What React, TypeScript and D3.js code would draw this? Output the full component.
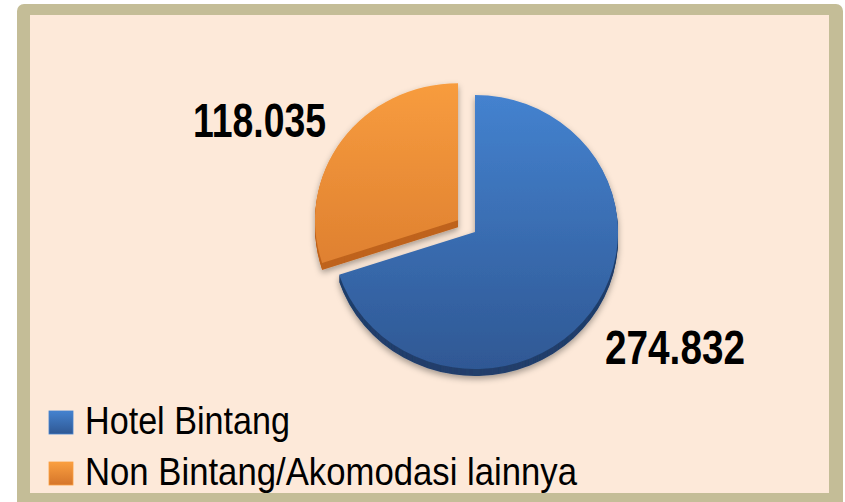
import React from "react";
import * as d3 from "d3";

const categories = ["Hotel Bintang", "Non Bintang/Akomodasi lainnya"];
const values = [274832, 118035];
const valueLabels = ["274.832", "118.035"];
const exploded = [false, true];

const W = 845;
const H = 502;
const CX = 475;
const CY = 232;
const RX = 143;
const RY = 137;
const DEPTH = 7;
const EXPLODE = 21;

const topColors = [
  ["#4482cf", "#2f5894"],
  ["#fa9f40", "#d5752a"],
];
const sideColors = ["#213f6c", "#bf631c"];
const FONT = "'Liberation Sans Narrow', 'Arial Narrow', 'Liberation Sans', Arial, sans-serif";

export default function App() {
  const pie = d3.pie<number>().sort(null).startAngle(0).endAngle(2 * Math.PI);
  const arcs = pie(values);
  const arc = d3.arc<d3.PieArcDatum<number>>().innerRadius(0).outerRadius(RX);
  const sy = RY / RX;

  const offsets = arcs.map((a, i) => {
    if (!exploded[i]) return [0, 0];
    const m = (a.startAngle + a.endAngle) / 2;
    return [EXPLODE * Math.sin(m), -EXPLODE * Math.cos(m) * sy];
  });

  const labelPos = [
    { x: 605, y: 364, anchor: "start", len: 140 },
    { x: 326, y: 137, anchor: "end", len: 133 },
  ];

  const depthSteps = d3.range(DEPTH, 0, -1);

  return (
    <svg
      width={W}
      height={H}
      style={{ position: "fixed", left: 0, top: 0 }}
      xmlns="http://www.w3.org/2000/svg"
    >
      <defs>
        {topColors.map((c, i) => (
          <linearGradient
            key={i}
            id={`g${i}`}
            gradientUnits="userSpaceOnUse"
            x1={0}
            y1={-RX - 20 * (i === 1 ? 1 : 0)}
            x2={0}
            y2={RX - 20 * (i === 1 ? 1 : 0)}
          >
            <stop offset="0%" stopColor={c[0]} />
            <stop offset="100%" stopColor={c[1]} />
          </linearGradient>
        ))}
        {topColors.map((c, i) => (
          <linearGradient key={"m" + i} id={`m${i}`} x1="0" y1="0" x2="0" y2="1">
            <stop offset="0%" stopColor={c[0]} />
            <stop offset="100%" stopColor={c[1]} />
          </linearGradient>
        ))}
        <filter id="shadow" x="-20%" y="-20%" width="140%" height="140%">
          <feDropShadow dx="0" dy="3" stdDeviation="3" floodColor="#000" floodOpacity="0.35" />
        </filter>
      </defs>

      <rect x={17} y={4} width={826} height={515} rx={7} fill="#c4bd97" />
      <rect x={30} y={15} width={799} height={478} fill="#fde9d9" />

      {arcs.map((a, i) => (
        <g
          key={i}
          transform={`translate(${CX + offsets[i][0]},${CY + offsets[i][1]})`}
          filter="url(#shadow)"
        >
          {depthSteps.map((k) => (
            <path
              key={k}
              d={arc(a) || ""}
              transform={`translate(0,${k}) scale(1,${sy})`}
              fill={sideColors[i]}
            />
          ))}
          <path d={arc(a) || ""} transform={`scale(1,${sy})`} fill={`url(#g${i})`} />
        </g>
      ))}

      {arcs.map((a, i) => (
        <text
          key={"l" + i}
          x={labelPos[i].x}
          y={labelPos[i].y}
          textAnchor={labelPos[i].anchor as any}
          fontFamily={FONT}
          fontWeight="bold"
          fontSize={49}
          textLength={labelPos[i].len}
          lengthAdjust="spacingAndGlyphs"
          fill="#000"
        >
          {valueLabels[i]}
        </text>
      ))}

      {categories.map((c, i) => (
        <g key={"lg" + i} transform={`translate(49,${411 + i * 51})`}>
          <rect x={0} y={0} width={24} height={23} fill={`url(#m${i})`} stroke={topColors[i][0]} strokeWidth={0.8} />
          <text
            x={36}
            y={23}
            fontFamily={FONT}
            fontSize={39}
            textLength={i === 0 ? 205 : 492}
            lengthAdjust="spacingAndGlyphs"
            fill="#000"
          >
            {c}
          </text>
        </g>
      ))}
    </svg>
  );
}
